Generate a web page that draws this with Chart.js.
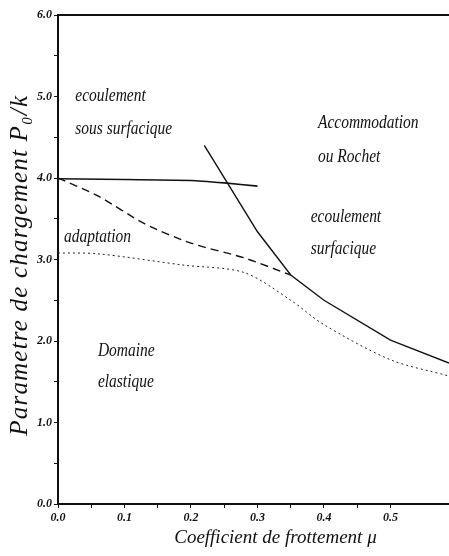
<!DOCTYPE html>
<html>
<head>
<meta charset="utf-8">
<script src="https://cdn.jsdelivr.net/npm/chart.js@4/dist/chart.umd.min.js"></script>
<style>
html,body{margin:0;padding:0;background:#fff;}
#wrap{width:449px;height:556px;position:relative;}
</style>
</head>
<body>
<div id="wrap"><canvas id="c"></canvas></div>
<script>
// ---- data ----
const solidTopX = [0.0, 0.20, 0.25, 0.30];
const solidTopY = [3.99, 3.97, 3.94, 3.90];

const solidSteepX = [0.22, 0.30, 0.35, 0.40, 0.50, 0.588];
const solidSteepY = [4.40, 3.34, 2.81, 2.50, 2.01, 1.73];

const dashedX = [0.0, 0.06, 0.13, 0.20, 0.28, 0.35];
const dashedY = [4.0, 3.78, 3.44, 3.20, 3.02, 2.81];

const dottedX = [0.0, 0.06, 0.19, 0.28, 0.35, 0.40, 0.50, 0.588];
const dottedY = [3.08, 3.07, 2.93, 2.84, 2.50, 2.20, 1.77, 1.57];

const xTickLabels = ['0.0', '0.1', '0.2', '0.3', '0.4', '0.5'];
const yTickLabels = ['0.0', '1.0', '2.0', '3.0', '4.0', '5.0', '6.0'];

const noteTexts = ['ecoulement', 'sous surfacique', 'Accommodation', 'ou Rochet',
                   'ecoulement', 'surfacique', 'adaptation', 'Domaine', 'elastique'];
const noteX = [0.026, 0.026, 0.391, 0.391, 0.380, 0.380, 0.009, 0.060, 0.060];
const noteY = [5.00, 4.60, 4.67, 4.26, 3.52, 3.12, 3.27, 1.87, 1.49];

const xTitle = 'Coefficient de frottement \u03bc';
const yTitle = 'Parametre de chargement P\u2080/k';
// title anchors, in data units
const xTitleAt = 0.327;
const yTitleAt = 2.93;

// ---- helpers ----
const pts = (xs, ys) => xs.map((x, i) => ({x: x, y: ys[i]}));
const serif = "'Liberation Serif', 'DejaVu Serif', serif";

const notesPlugin = {
  id: 'notes',
  afterDatasetsDraw(chart) {
    const ctx = chart.ctx, sx = chart.scales.x, sy = chart.scales.y;
    const a = chart.chartArea;
    ctx.save();
    ctx.fillStyle = '#111';
    ctx.font = 'italic 18px ' + serif;
    ctx.textAlign = 'left';
    ctx.textBaseline = 'middle';
    noteTexts.forEach((t, i) => {
      const px = sx.getPixelForValue(noteX[i]), py = sy.getPixelForValue(noteY[i]);
      ctx.save();
      ctx.translate(px, py);
      ctx.scale(0.86, 1);
      ctx.fillText(t, 0, 0);
      ctx.restore();
    });
    // top frame line
    ctx.strokeStyle = '#111';
    ctx.lineWidth = 2;
    ctx.beginPath();
    ctx.moveTo(a.left, a.top);
    ctx.lineTo(a.right, a.top);
    ctx.stroke();

    // x axis title
    ctx.font = 'italic 19px ' + serif;
    ctx.textAlign = 'center';
    ctx.textBaseline = 'middle';
    ctx.fillText(xTitle, sx.getPixelForValue(xTitleAt), a.bottom + 34);

    // y axis title
    ctx.save();
    ctx.translate(20, sy.getPixelForValue(yTitleAt));
    ctx.rotate(-Math.PI / 2);
    ctx.font = 'italic 25px ' + serif;
    if ('letterSpacing' in ctx) ctx.letterSpacing = '1.2px';
    ctx.textAlign = 'center';
    ctx.textBaseline = 'middle';
    ctx.fillText(yTitle, 0, 0);
    ctx.restore();
    ctx.restore();
  }
};

new Chart(document.getElementById('c'), {
  type: 'line',
  data: {
    datasets: [
      {data: pts(solidTopX, solidTopY), borderColor: '#111', borderWidth: 1.6, pointRadius: 0, tension: 0.2},
      {data: pts(solidSteepX, solidSteepY), borderColor: '#111', borderWidth: 1.4, pointRadius: 0, tension: 0},
      {data: pts(dashedX, dashedY), borderColor: '#111', borderWidth: 1.4, borderDash: [8, 5], pointRadius: 0, tension: 0.25},
      {data: pts(dottedX, dottedY), borderColor: '#222', borderWidth: 1, borderDash: [2, 3], pointRadius: 0, tension: 0.3}
    ]
  },
  options: {
    responsive: true,
    maintainAspectRatio: false,
    animation: false,
    layout: {padding: {top: 15, right: 0, left: 0, bottom: 0}},
    plugins: {legend: {display: false}, tooltip: {enabled: false}},
    scales: {
      x: {
        type: 'linear', min: 0, max: 0.588,
        afterFit(s) { s.height = 52; },
        grid: {drawOnChartArea: false, tickLength: 4, color: '#111'},
        border: {color: '#111', width: 2},
        ticks: {
          stepSize: 0.05, autoSkip: false, maxRotation: 0, color: '#111', padding: 3,
          font: {family: serif, size: 12, style: 'italic', weight: 'bold'},
          callback(v) {
            const k = Math.round(v * 20);
            return k % 2 === 0 ? xTickLabels[k / 2] : '';
          }
        }
      },
      y: {
        type: 'linear', min: 0, max: 6,
        afterFit(s) { s.width = 58; },
        grid: {drawOnChartArea: false, tickLength: 4, color: '#111'},
        border: {color: '#111', width: 2},
        ticks: {
          stepSize: 0.5, autoSkip: false, color: '#111', padding: 2,
          font: {family: serif, size: 12, style: 'italic', weight: 'bold'},
          callback(v) {
            const k = Math.round(v * 2);
            return k % 2 === 0 ? yTickLabels[k / 2] : '';
          }
        }
      }
    }
  },
  plugins: [notesPlugin]
});
</script>
</body>
</html>
